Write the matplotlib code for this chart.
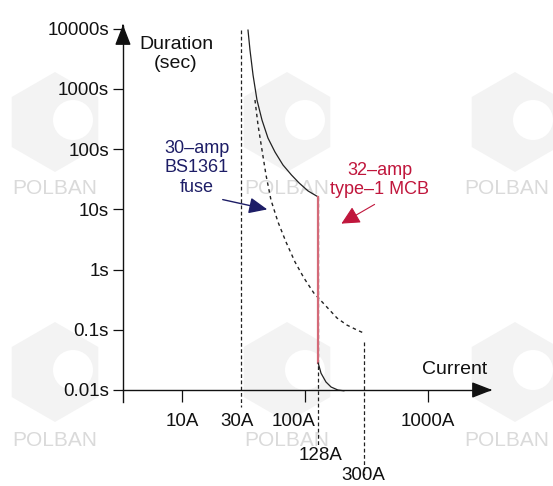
import matplotlib
matplotlib.use("Agg")
import matplotlib.pyplot as plt
from matplotlib.patches import RegularPolygon, Circle
from matplotlib.transforms import IdentityTransform
from matplotlib.ticker import NullLocator

plt.rcParams['font.family'] = ['Liberation Sans', 'DejaVu Sans']

# ---- data ----
y_ticks = [0.01, 0.1, 1, 10, 100, 1000, 10000]
y_labels = ["0.01s", "0.1s", "1s", "10s", "100s", "1000s", "10000s"]
x_major = [10, 100, 1000]

# 32-amp MCB thermal region (current A, time s)
mcb_thermal_i = [34.4, 35.7, 37.8, 40.7, 44.7, 50.0, 57.0, 66.2, 77.7, 89.5, 106, 128]
mcb_thermal_t = [9500, 4450, 1710, 656, 305, 153, 89.8, 54.7, 37.2, 27.5, 20.2, 16.1]
# MCB magnetic (instantaneous) trip
mcb_trip_i = [128, 128]
mcb_trip_t = [16.1, 0.028]
mcb_tail_i = [128, 135, 148, 163, 185, 207]
mcb_tail_t = [0.028, 0.019, 0.0136, 0.0112, 0.0100, 0.0097]

# 30-amp BS1361 fuse
fuse_i = [39.2, 41.5, 44.7, 48.2, 52.9, 60.3, 70.1, 82.9, 98.1, 118, 148, 182, 219, 265, 300]
fuse_t = [656, 252, 97, 37.2, 14.3, 6.18, 2.87, 1.34, 0.724, 0.408, 0.248, 0.157, 0.120, 0.099, 0.0885]

# reference current lines (A) and their vertical extents (s)
ref_30_t = [9550, 0.0052]
ref_128_t = [16.1, 0.00113]
ref_300_t = [0.0627, 0.000387]

W, H = 553, 486
fig = plt.figure(figsize=(W / 100, H / 100), dpi=100)
fig.patch.set_facecolor("white")

# ---- faint watermarks ----
for cx, tx in ((55, 55), (287, 287), (515, 507)):
    for cy, ty in ((122, 188), (372, 440)):
        hexa = RegularPolygon((cx, H - cy), numVertices=6, radius=50, orientation=0,
                              facecolor="#f3f3f3", edgecolor="none",
                              transform=IdentityTransform(), zorder=-5)
        fig.add_artist(hexa)
        hole = Circle((cx + 18, H - cy + 2), 20, facecolor="white", edgecolor="none",
                      transform=IdentityTransform(), zorder=-4)
        fig.add_artist(hole)
        fig.text(tx / W, 1 - ty / H, "POLBAN", color="#dadada", fontsize=15,
                 ha="center", va="center", zorder=-3)

# axes covering pixel box x 100..520, y 10..480 (from top)
ax = fig.add_axes([100 / W, 6 / H, 420 / W, 470 / H])
ax.patch.set_visible(False)
ax.set_xscale("log")
ax.set_yscale("log")
ax.set_xlim(10 ** 0.3333, 10 ** 3.748)
ax.set_ylim(10 ** -3.495, 10 ** 4.312)

X0 = 10 ** 0.520        # y-axis position
Y_TOP = 10 ** 4.05
X_RIGHT = 10 ** 3.50

for s in ("top", "right"):
    ax.spines[s].set_visible(False)
ax.spines["left"].set_position(("data", X0))
ax.spines["left"].set_bounds(10 ** -2.199, Y_TOP)
ax.spines["bottom"].set_position(("data", 0.01))
ax.spines["bottom"].set_bounds(X0, X_RIGHT)
for s in ("left", "bottom"):
    ax.spines[s].set_linewidth(1.0)
    ax.spines[s].set_color("#111111")

ax.set_yticks(y_ticks, y_labels)
ax.yaxis.set_minor_locator(NullLocator())
ax.tick_params(axis="y", direction="out", length=7.2, width=0.9, pad=3,
               labelsize=13.5, colors="#111111")
ax.set_xticks(x_major, [""] * len(x_major))
ax.xaxis.set_minor_locator(NullLocator())
ax.tick_params(axis="x", direction="out", length=8.5, width=0.9, colors="#111111")

# arrow heads
ax.annotate("", xy=(X0, 10 ** 4.113), xytext=(X0, Y_TOP * 0.9),
            arrowprops=dict(arrowstyle="-|>,head_length=0.9,head_width=0.35",
                            color="#111111", lw=1, mutation_scale=14), annotation_clip=False)
ax.annotate("", xy=(10 ** 3.545, 0.01), xytext=(X_RIGHT * 0.95, 0.01),
            arrowprops=dict(arrowstyle="-|>,head_length=0.9,head_width=0.35",
                            color="#111111", lw=1, mutation_scale=14), annotation_clip=False)

# reference dashed vertical lines
dash = (0, (3, 2))
ax.plot([30, 30], ref_30_t, color="#222222", lw=0.9, ls=dash, clip_on=False)
ax.plot([128, 128], ref_128_t, color="#222222", lw=0.9, ls=dash, clip_on=False)
ax.plot([300, 300], ref_300_t, color="#222222", lw=0.9, ls=dash, clip_on=False)

# fuse curve
ax.plot(fuse_i, fuse_t, color="#222222", lw=1.0, ls=(0, (2.5, 2.5)))

# MCB curve
ax.plot(mcb_thermal_i, mcb_thermal_t, color="#222222", lw=0.9)
ax.plot(mcb_trip_i, mcb_trip_t, color="#d46a78", lw=1.6)
ax.plot(mcb_tail_i, mcb_tail_t, color="#222222", lw=0.9)

# x labels
xl = dict(fontsize=13.5, ha="center", va="center", color="#111111",
          textcoords="offset pixels", annotation_clip=False)
ax.annotate("10A", xy=(10, 0.01), xytext=(0, -32), **xl)
ax.annotate("30A", xy=(30, 0.01), xytext=(-4, -32), **xl)
ax.annotate("100A", xy=(100, 0.01), xytext=(-11, -32), **xl)
ax.annotate("1000A", xy=(1000, 0.01), xytext=(0, -32), **xl)
ax.annotate("128A", xy=(128, 0.01), xytext=(2, -66), **xl)
ax.annotate("300A", xy=(300, 0.01), xytext=(0, -86), **xl)

# axis titles
fig.text(176 / W, 1 - 54 / H, "Duration\n(sec)", fontsize=14, ha="center", va="center",
         linespacing=1.2, color="#111111")
fig.text(455 / W, 1 - 370 / H, "Current", fontsize=14, ha="center", va="center",
         color="#111111")

# annotations
navy = "#1d1d66"
red = "#c0163c"
fig.text(197 / W, 1 - 168 / H, "30\u2013amp\nBS1361\nfuse", fontsize=13, ha="center",
         va="center", linespacing=1.2, color=navy)
ax.annotate("", xy=(270, H - 210), xytext=(220, H - 199), xycoords="figure pixels",
            textcoords="figure pixels",
            arrowprops=dict(arrowstyle="-|>,head_length=0.8,head_width=0.35",
                            color=navy, lw=1, mutation_scale=14))
fig.text(380 / W, 1 - 180 / H, "32\u2013amp\ntype\u20131 MCB", fontsize=13, ha="center",
         va="center", linespacing=1.1, color=red)
ax.annotate("", xy=(339, H - 225), xytext=(377, H - 203), xycoords="figure pixels",
            textcoords="figure pixels",
            arrowprops=dict(arrowstyle="-|>,head_length=0.8,head_width=0.4",
                            color=red, lw=0.8, mutation_scale=14))

fig.savefig("out.png", dpi=100)
